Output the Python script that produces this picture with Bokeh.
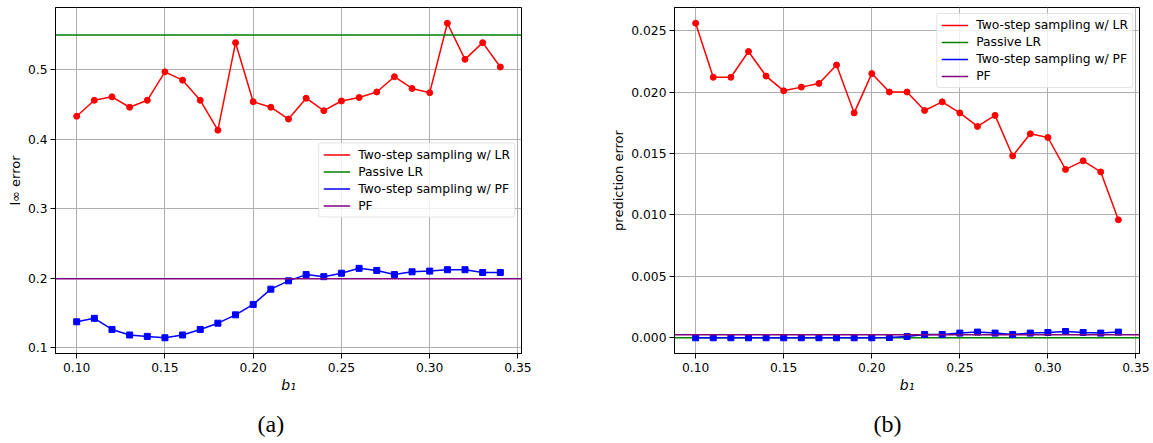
from bokeh.plotting import figure
from bokeh.layouts import row
from bokeh.models import FixedTicker, Range1d, Title, NumeralTickFormatter
from bokeh.embed import file_html
from bokeh.resources import INLINE

# ---------------- data ----------------
b1 = [0.10, 0.11, 0.12, 0.13, 0.14, 0.15, 0.16, 0.17, 0.18, 0.19, 0.20, 0.21,
      0.22, 0.23, 0.24, 0.25, 0.26, 0.27, 0.28, 0.29, 0.30, 0.31, 0.32, 0.33, 0.34]

# panel (a): l_inf error
a_two_step_lr = [0.433, 0.456, 0.461, 0.446, 0.456, 0.497, 0.485, 0.456, 0.413, 0.539,
                 0.454, 0.446, 0.429, 0.459, 0.441, 0.455, 0.460, 0.468, 0.490, 0.473,
                 0.467, 0.567, 0.515, 0.539, 0.504]
a_passive_lr = 0.550
a_two_step_pf = [0.137, 0.142, 0.126, 0.118, 0.116, 0.114, 0.118, 0.126, 0.135, 0.147,
                 0.162, 0.184, 0.196, 0.205, 0.202, 0.207, 0.214, 0.211, 0.205, 0.209,
                 0.210, 0.212, 0.212, 0.208, 0.208]
a_pf = 0.199

# panel (b): prediction error
b_two_step_lr = [0.0256, 0.0212, 0.0212, 0.0233, 0.0213, 0.0201, 0.0204, 0.0207, 0.0222, 0.0183,
                 0.0215, 0.0200, 0.0200, 0.0185, 0.0192, 0.0183, 0.0172, 0.0181, 0.0148, 0.0166,
                 0.0163, 0.0137, 0.0144, 0.0135, 0.0096]
b_passive_lr = 0.0
b_two_step_pf = [0.0, 0.0, 0.0, 0.0, 0.0, 0.0, 0.0, 0.0, 0.0, 0.0,
                 0.0, 0.00002, 0.0001, 0.00027, 0.00027, 0.00038, 0.00046, 0.00038, 0.00027, 0.00038,
                 0.00043, 0.00051, 0.00043, 0.00038, 0.00046]
b_pf = 0.00025

series_labels = ["Two-step sampling w/ LR", "Passive LR", "Two-step sampling w/ PF", "PF"]

x_ticks = [0.10, 0.15, 0.20, 0.25, 0.30, 0.35]
x_tick_labels = ["0.10", "0.15", "0.20", "0.25", "0.30", "0.35"]
a_y_ticks = [0.1, 0.2, 0.3, 0.4, 0.5]
a_y_tick_labels = ["0.1", "0.2", "0.3", "0.4", "0.5"]
b_y_ticks = [0.0, 0.005, 0.010, 0.015, 0.020, 0.025]
b_y_tick_labels = ["0.000", "0.005", "0.010", "0.015", "0.020", "0.025"]

# ---------------- style ----------------
FONT = "DejaVu Sans"
FS = "12.3px"
RED, GREEN, BLUE, PURPLE = "#ff0000", "#008000", "#0000ff", "#800080"
LW = 1.5


def padded(lo, hi, frac=0.05):
    d = (hi - lo) * frac
    return lo - d, hi + d


def make_panel(lr, passive, pf2, pf, ylabel, yticks, yticklabels, yfmt,
               frame_w, border_l, border_r, legend_loc, caption, cap_offset):
    xlo, xhi = padded(min(b1), max(b1))
    allv = list(lr) + list(pf2) + [passive, pf]
    ylo, yhi = padded(min(allv), max(allv))

    p = figure(frame_width=frame_w, frame_height=346,
               min_border_left=border_l, min_border_right=border_r,
               min_border_top=7, min_border_bottom=90,
               x_range=Range1d(xlo, xhi), y_range=Range1d(ylo, yhi),
               output_backend="svg", toolbar_location=None,
               background_fill_color="white", border_fill_color="white")

    p.line(b1, lr, color=RED, line_width=LW, legend_label=series_labels[0])
    p.scatter(b1, lr, marker="circle", size=6, color=RED)
    p.line([xlo, xhi], [passive, passive], color=GREEN, line_width=LW,
           legend_label=series_labels[1])
    p.line(b1, pf2, color=BLUE, line_width=LW, legend_label=series_labels[2])
    p.scatter(b1, pf2, marker="square", size=6, color=BLUE)
    p.line([xlo, xhi], [pf, pf], color=PURPLE, line_width=LW,
           legend_label=series_labels[3])

    # axes
    p.xaxis.ticker = FixedTicker(ticks=x_ticks)
    p.xaxis.formatter = NumeralTickFormatter(format="0.00")
    p.xaxis.major_label_overrides = dict(zip(x_ticks, x_tick_labels))
    p.yaxis.ticker = FixedTicker(ticks=yticks)
    p.yaxis.formatter = NumeralTickFormatter(format=yfmt)
    p.yaxis.major_label_overrides = dict(zip(yticks, yticklabels))

    for ax in (p.xaxis[0], p.yaxis[0]):
        ax.axis_line_color = "black"
        ax.axis_line_width = 1
        ax.major_tick_line_color = "black"
        ax.major_tick_out = 5
        ax.major_tick_in = 0
        ax.minor_tick_out = 0
        ax.minor_tick_in = 0
        ax.major_label_text_font = FONT
        ax.major_label_text_font_size = FS
        ax.major_label_text_color = "black"
        ax.major_label_standoff = 3
        ax.axis_label_text_font = FONT
        ax.axis_label_text_color = "black"
        ax.axis_label_standoff = 2

    p.xaxis.major_label_standoff = 4
    p.xaxis.axis_label = "b\u2081"
    p.xaxis.axis_label_text_font_style = "italic"
    p.xaxis.axis_label_text_font_size = "14px"
    p.yaxis.axis_label = ylabel
    p.yaxis.axis_label_text_font_style = "normal"
    p.yaxis.axis_label_text_font_size = "13px"

    p.grid.grid_line_color = "#b0b0b0"
    p.grid.grid_line_width = 1
    p.outline_line_color = "black"
    p.outline_line_width = 1
    p.outline_line_alpha = 1

    lg = p.legend[0]
    lg.location = legend_loc
    lg.margin = 6
    lg.padding = 4
    lg.spacing = 3
    lg.label_height = 14
    lg.glyph_height = 14
    lg.glyph_width = 27
    lg.label_standoff = 8
    lg.label_text_font = FONT
    lg.label_text_font_size = FS
    lg.label_text_color = "black"
    lg.border_line_color = "#cccccc"
    lg.border_line_width = 1
    lg.background_fill_color = "white"
    lg.background_fill_alpha = 0.8
    if "border_radius" in lg.properties():
        lg.border_radius = 3

    cap = Title(text=caption, align="left", offset=cap_offset,
                text_font="Liberation Serif", text_font_size="24px",
                text_font_style="normal", text_color="black")
    if "standoff" in cap.properties():
        cap.standoff = 26
    p.add_layout(cap, "below")
    return p


pa = make_panel(a_two_step_lr, a_passive_lr, a_two_step_pf, a_pf,
                "l\u221e error", a_y_ticks, a_y_tick_labels, "0.0",
                466, 55, 79, "center_right", "(a)", 202)
pb = make_panel(b_two_step_lr, b_passive_lr, b_two_step_pf, b_pf,
                "prediction error", b_y_ticks, b_y_tick_labels, "0.000",
                465, 74, 14, "top_right", "(b)", 199)

layout = row(pa, pb, spacing=0)
open("out.html", "w").write(file_html(layout, INLINE))
